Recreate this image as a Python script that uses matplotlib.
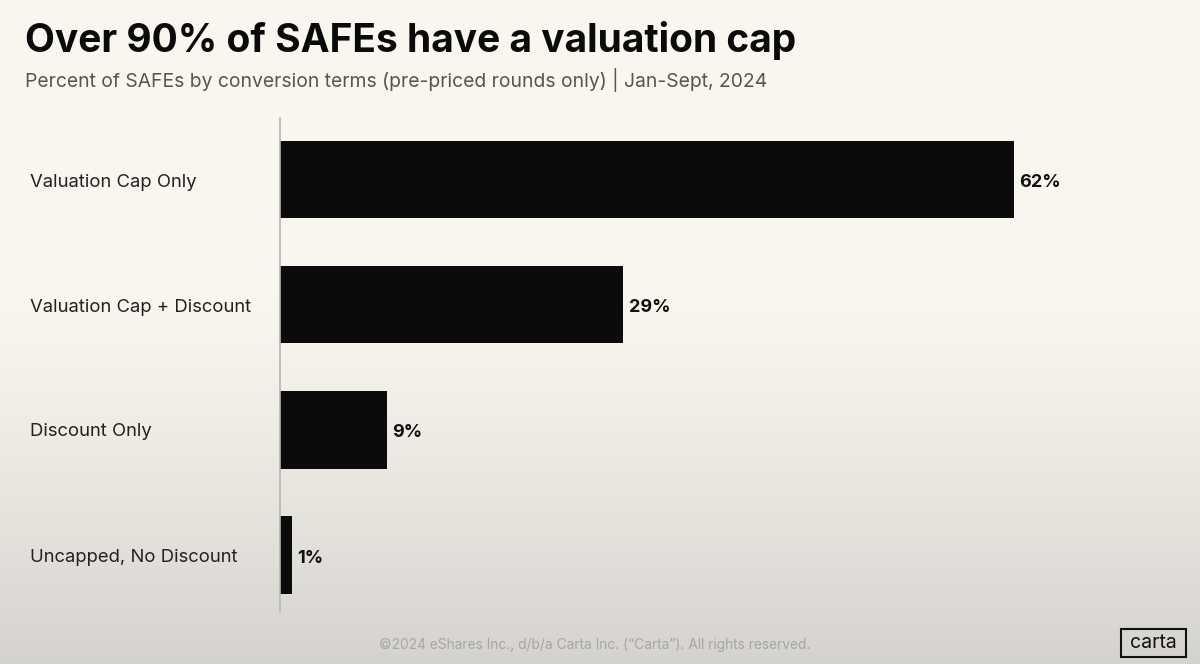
import numpy as np
import matplotlib
matplotlib.use("Agg")
import matplotlib.pyplot as plt
from matplotlib.patches import Rectangle

categories = ["Valuation Cap Only", "Valuation Cap + Discount", "Discount Only", "Uncapped, No Discount"]
values = [62, 29, 9, 1]
value_labels = ["62%", "29%", "9%", "1%"]

title = "Over 90% of SAFEs have a valuation cap"
subtitle = "Percent of SAFEs by conversion terms (pre-priced rounds only) | Jan-Sept, 2024"
footer = "\u00a92024 eShares Inc., d/b/a Carta Inc. (\u201cCarta\u201d). All rights reserved."

W, H = 1200, 664
fig = plt.figure(figsize=(W / 100, H / 100), dpi=100)

# background gradient
bg = fig.add_axes([0, 0, 1, 1], zorder=-10)
top = np.array([0.976, 0.965, 0.937])
bot = np.array([0.835, 0.827, 0.808])
t = np.linspace(0, 1, 300)
w = np.clip((t - 0.45) / 0.55, 0, 1) ** 1.2
grad = top[None, :] * (1 - w[:, None]) + bot[None, :] * w[:, None]
bg.imshow(grad[:, None, :], aspect="auto", extent=[0, 1, 0, 1], origin="upper")
bg.set_axis_off()

font = "Inter"
ax = fig.add_axes([280 / W, 1 - 612 / H, 900 / W, (612 - 118) / H])
ax.patch.set_alpha(0)
y = np.arange(len(categories))
ax.barh(y, values, height=0.62, color="#0b0b0b")
ax.set_xlim(0, 76)
ax.set_ylim(3 + 0.456, -0.492)
for s in ["top", "right", "bottom"]:
    ax.spines[s].set_visible(False)
ax.spines["left"].set_color("#b5b5b5")
ax.spines["left"].set_linewidth(1.2)
ax.set_xticks([])
ax.set_yticks([])
for yi, v, lab in zip(y, values, value_labels):
    ax.text(v + 0.45, yi + 0.025, lab, va="center", ha="left", fontsize=13,
            fontweight="bold", family=font, color="#111111")

for yi, c in zip(y, categories):
    yp = 1 - (182 + 125 * yi) / H
    fig.text(30 / W, yp, c, ha="left", va="center", fontsize=13.3,
             family=font, color="#222222")

fig.text(25 / W, 1 - 40 / H, title, ha="left", va="center", fontsize=28,
         fontweight="bold", family=font, color="#0a0a0a")
fig.text(25 / W, 1 - 80 / H, subtitle, ha="left", va="center", fontsize=13.9,
         family=font, color="#555555")
fig.text(595 / W, 1 - 645 / H, footer, ha="center", va="center", fontsize=9.9,
         family=font, color="#a6a6a6")

fig.patches.append(Rectangle((1121 / W, 1 - 657 / H), 65 / W, 28 / H,
                             transform=fig.transFigure, fill=False,
                             edgecolor="#111111", linewidth=1.5))
fig.text(1153.5 / W, 1 - 643 / H, "carta", ha="center", va="center",
         fontsize=14, family=font, color="#111111")

fig.savefig("out.png", dpi=100)
